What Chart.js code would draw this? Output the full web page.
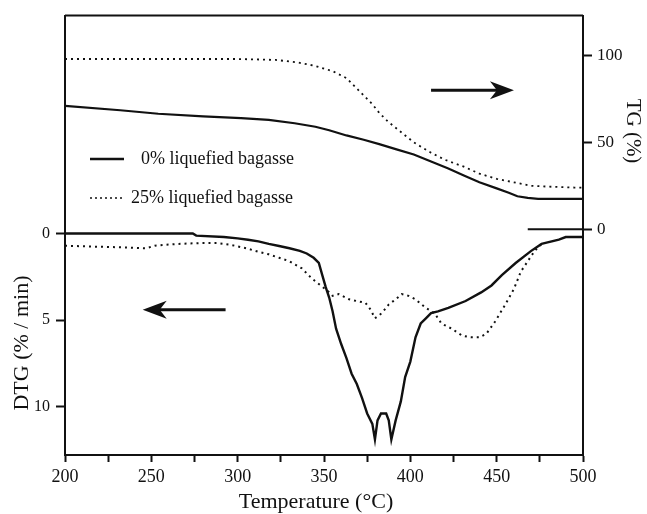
<!DOCTYPE html>
<html>
<head>
<meta charset="utf-8">
<script src="https://cdn.jsdelivr.net/npm/chart.js@4.4.1/dist/chart.umd.min.js"></script>
<style>
  html, body { margin: 0; padding: 0; background: #fff; }
</style>
</head>
<body>
<canvas id="tgaChart" width="647" height="514"></canvas>
<script>
// ─── DATA ─────────────────────────────────────────────────────────────────────

const seriesLabels = ['0% liquefied bagasse', '25% liquefied bagasse'];

// TG (%), right axis
const tg0T  = [200, 232, 254, 280, 302, 318, 333, 345, 353, 363, 373, 382, 392, 402, 412, 422, 431, 440, 450, 457, 462, 468, 474, 500];
const tg0V  = [71, 68.5, 66.5, 65, 64, 63, 61, 59, 57, 54, 51.5, 49, 46, 43, 39, 35, 31, 27, 23.5, 21, 19, 18, 17.5, 17.5];
const tg25T = [200, 250, 300, 322, 335, 345, 355, 363, 368, 373, 378, 382, 387, 392, 397, 402, 407, 412, 420, 431, 440, 450, 460, 470, 480, 495, 500];
const tg25V = [98, 98, 98, 97.5, 96, 94, 91, 87, 82, 77, 72, 67, 62, 58, 54, 50, 47, 44, 40, 36, 32, 29, 27, 25, 24.5, 24, 24];
const tgZeroT = [468, 500];
const tgZeroV = [0, 0];

// DTG (% / min), left axis (reversed)
const dtg0T = [200, 274, 276, 292, 300, 306, 312, 318, 324, 330, 336, 340, 344, 347, 349, 351, 353, 355, 357, 360,
               363, 366, 369, 372, 375, 378, 379.5, 381, 383, 386, 387.5, 389, 391.5, 394.5, 397, 400, 403, 406,
               409, 412, 416, 422, 432, 441, 447, 453, 461, 470, 476, 486, 490, 500];
const dtg0V = [0, 0, 0.12, 0.2, 0.28, 0.36, 0.45, 0.6, 0.72, 0.85, 1.0, 1.15, 1.4, 1.7, 2.4, 3.1, 3.7, 4.5, 5.5, 6.4,
               7.2, 8.1, 8.7, 9.5, 10.4, 11.0, 11.9, 10.8, 10.4, 10.4, 10.8, 11.9, 10.8, 9.7, 8.3, 7.4, 6.0, 5.2,
               4.9, 4.6, 4.5, 4.3, 3.9, 3.4, 3.0, 2.4, 1.7, 1.0, 0.6, 0.35, 0.2, 0.2];
const dtg25T = [200, 215, 235, 247, 252, 265, 278, 288, 296, 305, 312, 318, 324, 330, 337, 343, 348, 352, 355, 358.5,
                364.5, 369, 374, 377, 379.5, 383.5, 387.5, 391.5, 395, 399, 403, 409, 414, 418, 424, 430, 435, 440,
                444, 449, 455, 460, 464, 468, 472, 476];
const dtg25V = [0.7, 0.75, 0.8, 0.85, 0.7, 0.6, 0.55, 0.55, 0.65, 0.85, 1.05, 1.2, 1.4, 1.6, 2.0, 2.6, 3.0, 3.3, 3.6, 3.5,
                3.8, 3.9, 4.0, 4.4, 4.9, 4.6, 4.1, 3.8, 3.5, 3.6, 3.8, 4.3, 4.6, 5.2, 5.5, 5.9, 6.0, 6.0,
                5.8, 5.1, 4.1, 3.2, 2.2, 1.6, 1.0, 0.6];

const xTicks   = [200, 250, 300, 350, 400, 450, 500];
const dtgTicks = [0, 5, 10];
const tgTicks  = [0, 50, 100];

// ─── HELPERS ──────────────────────────────────────────────────────────────────

const INK   = '#111';
const SERIF = '"Liberation Serif", "DejaVu Serif", serif';

function pts(xs, ys) {
  return xs.map((x, i) => ({ x, y: ys[i] }));
}

function fixedTicks(list) {
  return scale => { scale.ticks = list.map(v => ({ value: v })); };
}

function arrow(ctx, x1, x2, y) {
  const dir = Math.sign(x2 - x1);
  ctx.save();
  ctx.strokeStyle = INK;
  ctx.fillStyle = INK;
  ctx.lineWidth = 3;
  ctx.beginPath();
  ctx.moveTo(x1, y);
  ctx.lineTo(x2 - dir * 10, y);
  ctx.stroke();
  ctx.beginPath();
  ctx.moveTo(x2, y);
  ctx.lineTo(x2 - dir * 24, y - 9);
  ctx.lineTo(x2 - dir * 17, y);
  ctx.lineTo(x2 - dir * 24, y + 9);
  ctx.closePath();
  ctx.fill();
  ctx.restore();
}

// ─── DECORATIONS ──────────────────────────────────────────────────────────────

const decorations = {
  id: 'decorations',
  afterDraw(chart) {
    const { ctx, chartArea: a, scales } = chart;
    const { x, dtg, tg } = scales;

    // top frame edge
    ctx.save();
    ctx.strokeStyle = INK;
    ctx.lineWidth = 2;
    ctx.beginPath();
    ctx.moveTo(a.left, a.top);
    ctx.lineTo(a.right, a.top);
    ctx.stroke();

    // legend
    ctx.font = '18px ' + SERIF;
    ctx.fillStyle = INK;
    ctx.textBaseline = 'middle';
    const rows = [
      { y: 159, dash: [], w: 2.4, textX: 141 },
      { y: 198, dash: [2, 3], w: 1.6, textX: 131 },
    ];
    rows.forEach((r, i) => {
      ctx.setLineDash(r.dash);
      ctx.lineWidth = r.w;
      ctx.beginPath();
      ctx.moveTo(90, r.y);
      ctx.lineTo(124, r.y);
      ctx.stroke();
      ctx.setLineDash([]);
      ctx.textAlign = 'left';
      ctx.fillText(seriesLabels[i], r.textX, r.y);
    });

    // axis titles
    ctx.font = '22px ' + SERIF;
    ctx.textAlign = 'center';
    ctx.fillText('Temperature (°C)', 316, 502);

    ctx.save();
    ctx.translate(22, 343);
    ctx.rotate(-Math.PI / 2);
    ctx.fillText('DTG (% / min)', 0, 0);
    ctx.restore();

    ctx.save();
    ctx.font = '21px ' + SERIF;
    ctx.translate(633, 131);
    ctx.rotate(Math.PI / 2);
    ctx.fillText('TG (%)', 0, 0);
    ctx.restore();
    ctx.restore();

    // arrows pointing to the axis each family belongs to
    arrow(ctx, x.getPixelForValue(412), x.getPixelForValue(460), tg.getPixelForValue(80));
    arrow(ctx, x.getPixelForValue(293), x.getPixelForValue(245), dtg.getPixelForValue(4.4));
  }
};

// ─── CHART ────────────────────────────────────────────────────────────────────

const lineBase = { pointRadius: 0, tension: 0, fill: false, borderColor: INK };

new Chart(document.getElementById('tgaChart'), {
  type: 'line',
  data: {
    datasets: [
      { ...lineBase, label: seriesLabels[0], data: pts(tg0T, tg0V),   yAxisID: 'tg',  borderWidth: 2.2 },
      { ...lineBase, label: seriesLabels[1], data: pts(tg25T, tg25V), yAxisID: 'tg',  borderWidth: 1.8, borderDash: [2, 4] },
      { ...lineBase, label: 'TG zero',       data: pts(tgZeroT, tgZeroV), yAxisID: 'tg', borderWidth: 2 },
      { ...lineBase, label: seriesLabels[1], data: pts(dtg25T, dtg25V), yAxisID: 'dtg', borderWidth: 2, borderDash: [2, 4] },
      { ...lineBase, label: seriesLabels[0], data: pts(dtg0T, dtg0V),   yAxisID: 'dtg', borderWidth: 2.4 },
    ]
  },
  options: {
    responsive: false,
    animation: false,
    devicePixelRatio: 1,
    layout: { padding: { top: 12, left: 0, right: 0, bottom: 0 } },
    plugins: {
      legend: { display: false },
      tooltip: { enabled: false },
    },
    scales: {
      x: {
        type: 'linear',
        position: 'bottom',
        min: 200,
        max: 500,
        afterFit: s => { s.height = 59; },
        afterBuildTicks: scale => {
          const list = [];
          for (let i = 0; i < xTicks.length; i++) {
            list.push({ value: xTicks[i] });
            if (i < xTicks.length - 1) list.push({ value: (xTicks[i] + xTicks[i + 1]) / 2 });
          }
          scale.ticks = list;
        },
        ticks: {
          autoSkip: false,
          maxRotation: 0,
          padding: 4,
          color: INK,
          font: { family: SERIF, size: 18 },
          callback: v => xTicks.includes(v) ? String(v) : '',
        },
        grid: { drawOnChartArea: false, tickLength: 7, tickColor: INK, tickWidth: 2 },
        border: { color: INK, width: 2 },
      },
      dtg: {
        type: 'linear',
        position: 'left',
        reverse: true,
        min: -12.6,
        max: 12.8,
        afterFit: s => { s.width = 65; },
        afterBuildTicks: fixedTicks(dtgTicks),
        ticks: { padding: 6, color: INK, font: { family: SERIF, size: 16 } },
        grid: { drawOnChartArea: false, tickLength: 9, tickColor: INK, tickWidth: 2 },
        border: { color: INK, width: 2 },
      },
      tg: {
        type: 'linear',
        position: 'right',
        min: -130,
        max: 123,
        afterFit: s => { s.width = 64; },
        afterBuildTicks: fixedTicks(tgTicks),
        ticks: { padding: 5, color: INK, font: { family: SERIF, size: 17 } },
        grid: { drawOnChartArea: false, tickLength: 9, tickColor: INK, tickWidth: 2 },
        border: { color: INK, width: 2 },
      },
    }
  },
  plugins: [decorations]
});
</script>
</body>
</html>
